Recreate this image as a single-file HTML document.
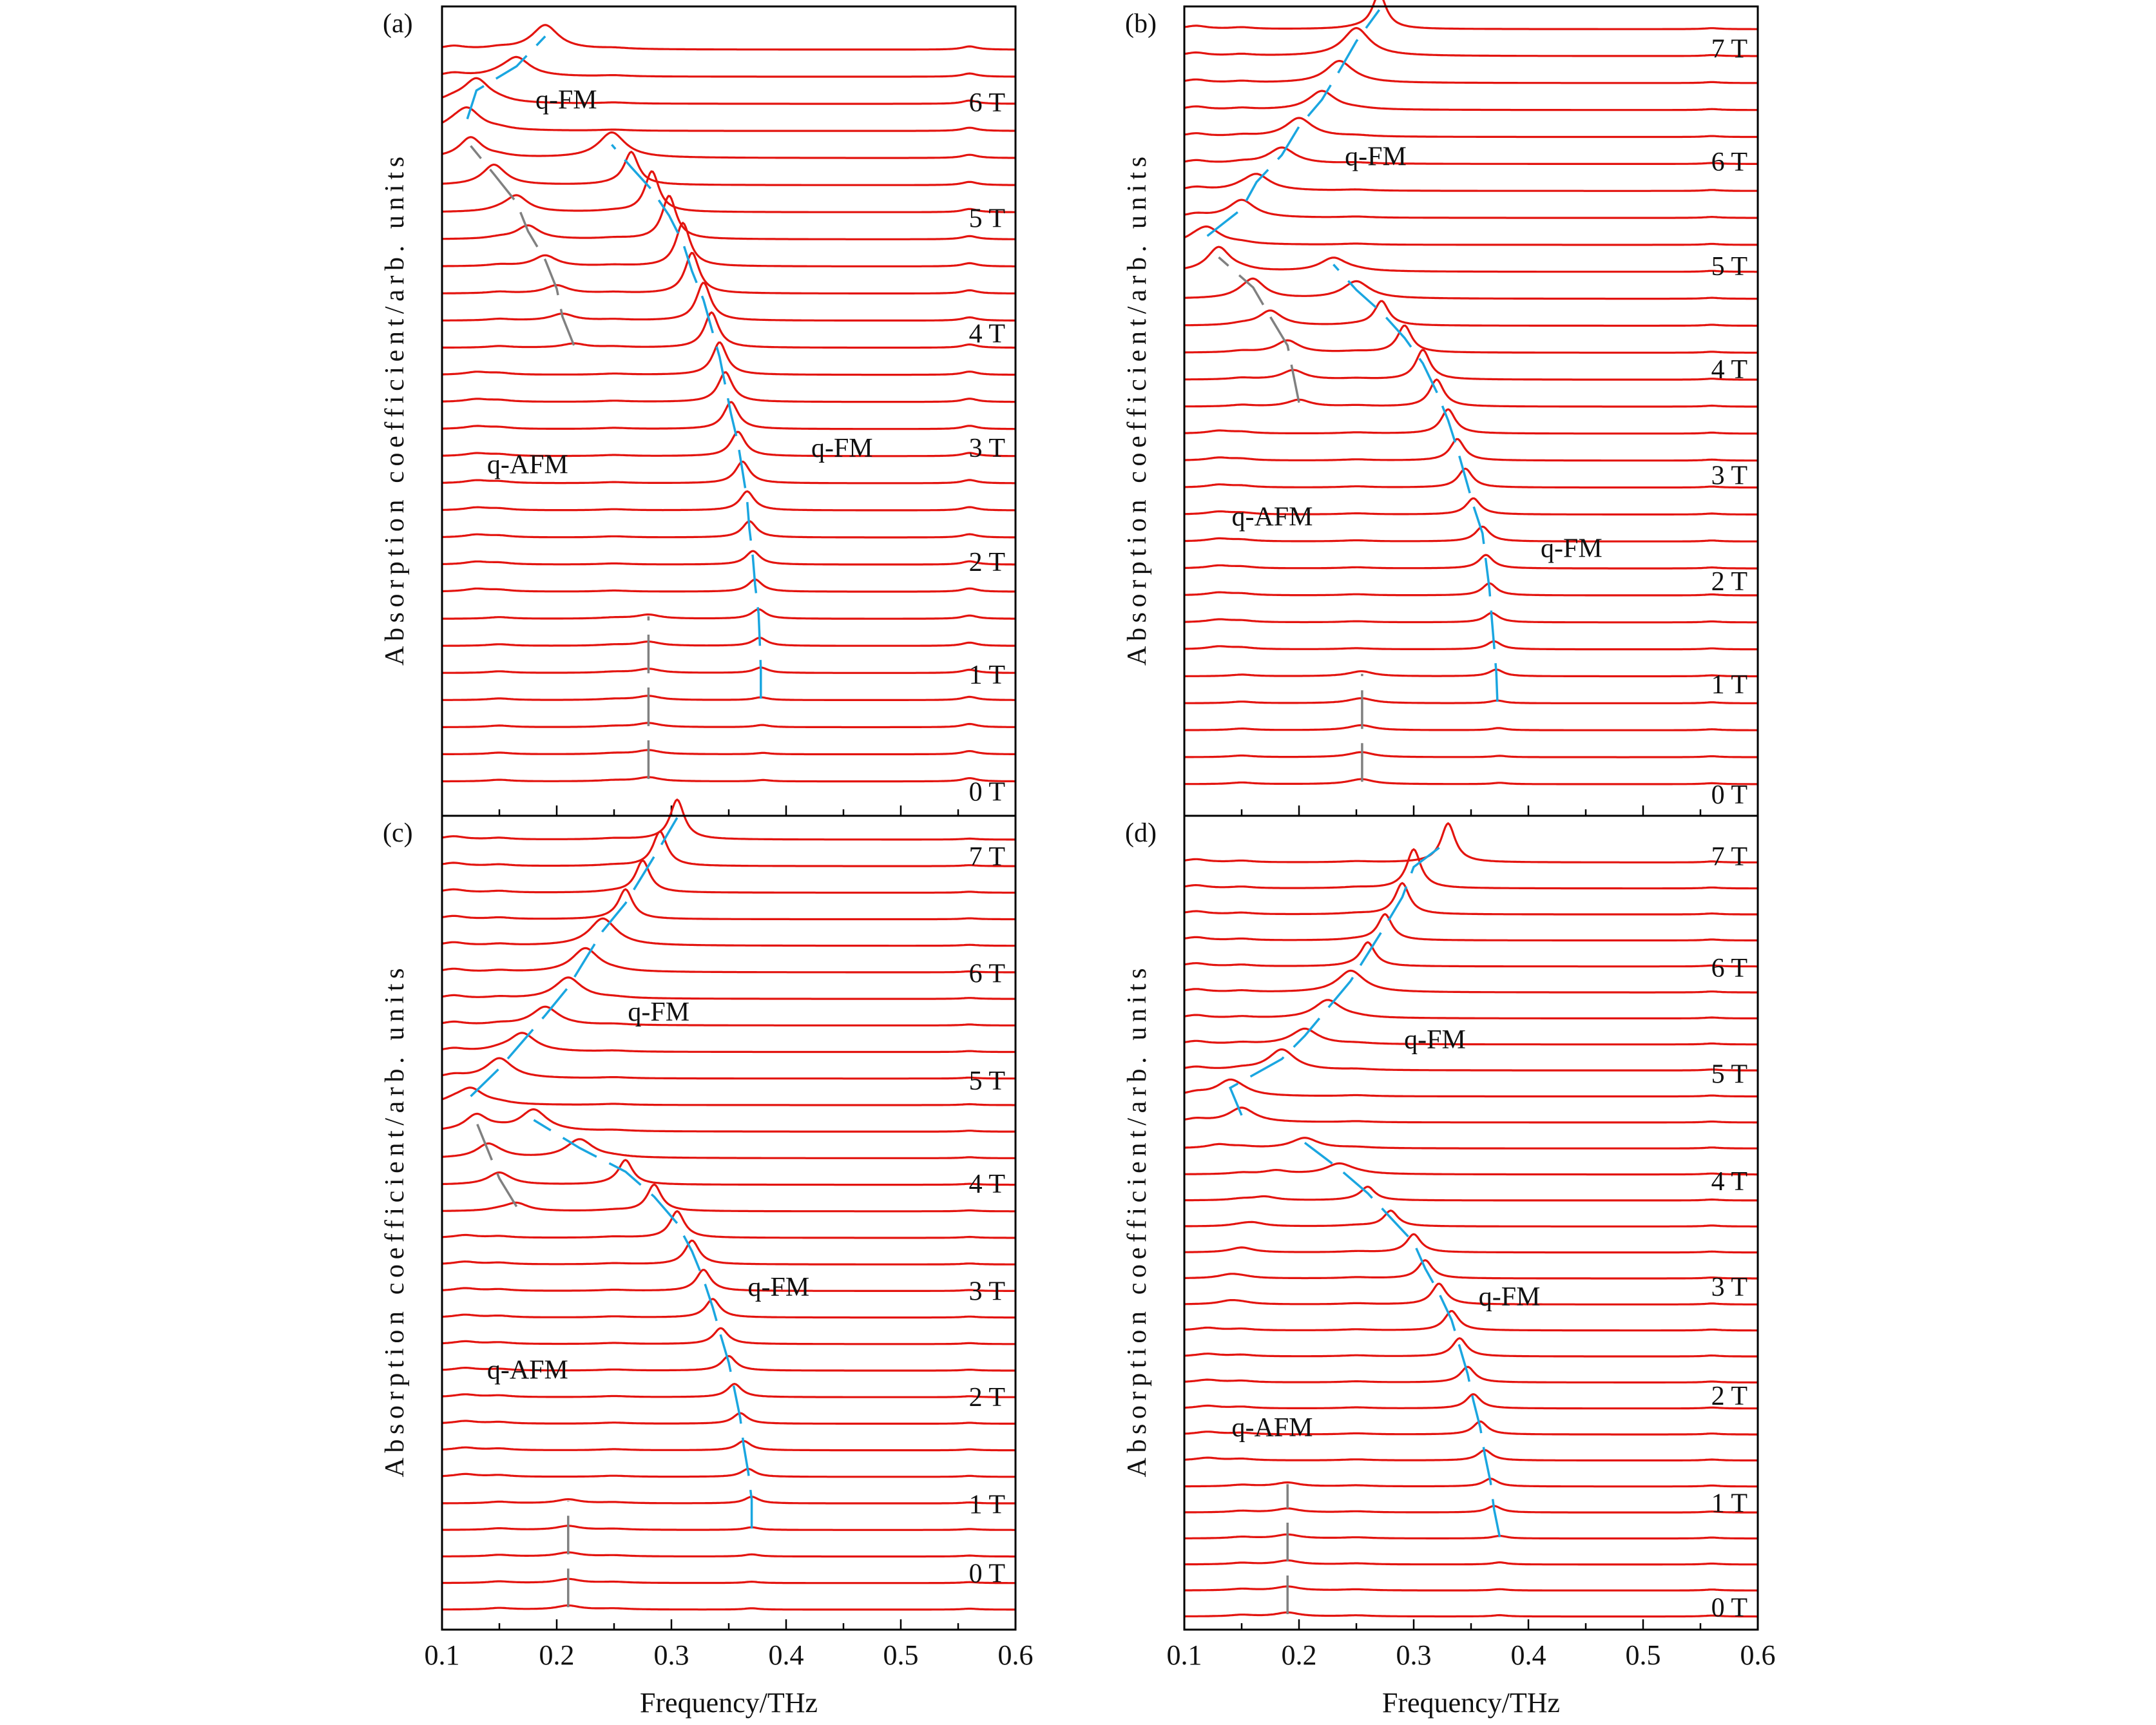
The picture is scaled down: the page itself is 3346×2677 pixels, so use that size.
<!DOCTYPE html>
<html><head><meta charset="utf-8"><style>
html,body{margin:0;padding:0;background:#fff}
svg{display:block}
text{font-family:"Liberation Serif",serif;fill:#111}
</style></head><body>
<svg id="chart" width="3346" height="2677" viewBox="0 0 3346 2677" xmlns="http://www.w3.org/2000/svg"></svg>
<script>
// ---- data (index 0 = bottom trace, 0 T; step 0.25 T) ----
const ticksX = [0.1,0.2,0.3,0.4,0.5,0.6];
const tickLabels = ["0.1","0.2","0.3","0.4","0.5","0.6"];
const fieldLabels = ["0 T","1 T","2 T","3 T","4 T","5 T","6 T","7 T"];

const aFmF = [.38,.38,.379,.378,.378,.377,.376,.373,.371,.368,.366,.362,.358,.352,.347,.342,.335,.328,.318,.31,.298,.283,.265,.248,.122,.13,.165,.19];
const aFmA = [.05,.05,.08,.1,.2,.3,.35,.45,.5,.6,.7,.8,.9,1.0,1.1,1.2,1.3,1.4,1.5,1.6,1.6,1.5,1.2,.9,.8,.9,.7,.9];
const aAfF = [.28,.28,.28,.28,.28,.28,.28,.13,.13,.13,.13,.13,.13,.13,.13,.13,.215,.205,.2,.19,.175,.165,.145,.125,.11,.11,.11,.11];
const aAfA = [.15,.15,.15,.15,.15,.15,.15,.1,.1,.1,.1,.1,.1,.1,.1,.1,.15,.25,.3,.4,.5,.6,.7,.75,.12,.12,.12,.12];

const bFmF = [.375,.375,.374,.373,.372,.37,.368,.366,.363,.36,.352,.345,.338,.33,.32,.308,.292,.272,.25,.23,.12,.15,.163,.185,.2,.22,.235,.25,.27];
const bFmA = [.05,.05,.08,.1,.25,.3,.35,.45,.5,.55,.6,.7,.8,.9,1.0,1.1,1.0,.9,.6,.5,.6,.6,.6,.6,.7,.7,.8,1.0,1.3];
const bAfF = [.255,.255,.255,.255,.255,.13,.13,.13,.13,.13,.13,.13,.13,.13,.2,.195,.19,.175,.16,.13,.11,.11,.11,.11,.11,.11,.11,.11,.11];
const bAfA = [.15,.15,.15,.15,.15,.1,.1,.1,.1,.1,.1,.1,.1,.1,.25,.35,.45,.55,.7,.9,.12,.12,.12,.12,.12,.12,.12,.12,.12];

const cFmF = [.37,.37,.37,.37,.37,.367,.363,.36,.355,.35,.343,.336,.328,.318,.305,.285,.26,.22,.18,.125,.15,.17,.19,.21,.225,.24,.26,.275,.29,.305];
const cFmA = [.05,.05,.08,.1,.25,.3,.35,.4,.5,.55,.6,.7,.8,.9,1.0,1.0,.9,.7,.8,.6,.7,.7,.7,.8,.9,1.0,1.1,1.2,1.3,1.5];
const cAfF = [.21,.21,.21,.21,.21,.12,.12,.12,.12,.12,.12,.12,.12,.12,.12,.165,.15,.14,.13,.11,.11,.11,.11,.11,.11,.11,.11,.11,.11,.11];
const cAfA = [.15,.15,.15,.15,.15,.1,.1,.1,.1,.1,.1,.1,.1,.1,.1,.3,.4,.5,.6,.12,.12,.12,.12,.12,.12,.12,.12,.12,.12,.12];

const dFmF = [.375,.375,.375,.375,.37,.367,.362,.358,.352,.347,.34,.333,.322,.31,.3,.28,.26,.235,.205,.15,.14,.185,.205,.225,.245,.26,.275,.29,.3,.33];
const dFmA = [.05,.05,.08,.1,.25,.3,.4,.5,.55,.6,.7,.75,.8,.7,.7,.6,.5,.4,.4,.5,.6,.8,.6,.7,.8,.9,1.0,1.2,1.5,1.5];
const dAfF = [.19,.19,.19,.19,.19,.19,.12,.12,.12,.12,.12,.12,.14,.14,.15,.16,.17,.18,.13,.11,.11,.11,.11,.11,.11,.11,.11,.11,.11,.11];
const dAfA = [.15,.15,.15,.15,.15,.15,.1,.1,.1,.1,.1,.1,.13,.14,.13,.13,.14,.14,.14,.12,.12,.12,.12,.12,.12,.12,.12,.12,.12,.12];

const NS = "http://www.w3.org/2000/svg";
const svg = document.getElementById('chart');
function mk(tag, attrs, parent){const e=document.createElementNS(NS,tag);for(const k in attrs)e.setAttribute(k,attrs[k]);(parent||svg).appendChild(e);return e;}

const panels = [
 {id:'a', x0:686, x1:1576, top:10, bottom:1266, base0:568*2.135, sp:19.7*2.135, fmF:aFmF, fmA:aFmA, afF:aAfF, afA:aAfA,
  labY:[575,490,408,325,242,158,74], notes:[["q-FM",413,72],["q-AFM",385,337],["q-FM",613,325]], xt:false},
 {id:'b', x0:1838, x1:2728, top:10, bottom:1266, base0:570*2.135, sp:19.6*2.135, fmF:bFmF, fmA:bFmA, afF:bAfF, afA:bAfA,
  labY:[577,497,422,345,268,193,117,35], notes:[["q-FM",1000,113],["q-AFM",925,375],["q-FM",1142,398]], xt:false},
 {id:'c', x0:686, x1:1576, top:1266, bottom:2529, base0:1170*2.135, sp:19.3*2.135, fmF:cFmF, fmA:cFmA, afF:cAfF, afA:cAfA,
  labY:[1143,1093,1015,938,860,785,707,622], notes:[["q-FM",480,735],["q-AFM",385,995],["q-FM",567,935]], xt:true},
 {id:'d', x0:1838, x1:2728, top:1266, bottom:2529, base0:1175*2.135, sp:18.9*2.135, fmF:dFmF, fmA:dFmA, afF:dAfF, afA:dAfA,
  labY:[1168,1092,1014,935,858,780,703,622], notes:[["q-FM",1043,755],["q-AFM",925,1037],["q-FM",1097,942]], xt:true}
];

function lor(f,f0,w){return w*w/((f-f0)*(f-f0)+w*w);}

panels.forEach(p=>{
  const g = mk('g',{});
  
  
  const xs = f => p.x0 + (f-0.1)/(0.5)*(p.x1-p.x0);
  const base = i => p.base0 - i*p.sp;
  const n = p.fmF.length;
  for(let i=0;i<n;i++){
    let d='';
    const wf = p.fmF[i] < 0.26 ? 0.014 : 0.0075;
    for(let k=0;k<=400;k++){
      const f = 0.1 + k*0.5/400;
      const v = p.fmA[i]*lor(f,p.fmF[i],wf) + p.afA[i]*lor(f,p.afF[i],0.012)
              + 0.12*lor(f,0.56,0.008)*(p.id==='a'?1:0.3) + 0.06*lor(f,0.15,0.012) + 0.04*lor(f,0.25,0.015);
      const y = base(i) - v*p.sp;
      d += (k?'L':'M') + xs(f).toFixed(1) + ' ' + y.toFixed(1);
    }
    const path = mk('path',{d:d,fill:'none',stroke:'#e3140f','stroke-width':3.2},g);
    
    
  }
  let seg=[];
  const flush=(arr,color,name)=>{ if(arr.length>1){const pl=mk('polyline',{points:arr.join(' '),fill:'none',stroke:color,'stroke-width':3.5,'stroke-dasharray':'60 22'},g);
       } };
  for(let i=3;i<n;i++){
    if(seg.length && Math.abs(p.fmF[i]-p.fmF[i-1])>0.05){flush(seg,'#1aa6e0','q-fm-guide-line');seg=[];}
    seg.push(xs(p.fmF[i]).toFixed(1)+','+(base(i)-p.fmA[i]*p.sp*0.55).toFixed(1));
  }
  flush(seg,'#1aa6e0','q-fm-guide-line');
  seg=[];
  for(let i=0;i<n;i++){
    const ok = p.afA[i]>=0.15;
    if(seg.length && (!ok || Math.abs(p.afF[i]-p.afF[i-1])>0.03)){flush(seg,'#808080','q-afm-guide-line');seg=[];}
    if(ok) seg.push(xs(p.afF[i]).toFixed(1)+','+(base(i)-p.afA[i]*p.sp*0.6).toFixed(1));
  }
  flush(seg,'#808080','q-afm-guide-line');
  const fr = mk('rect',{x:p.x0,y:p.top,width:p.x1-p.x0,height:p.bottom-p.top,fill:'none',stroke:'#000','stroke-width':3},g);
   
  for(let t=0;t<=10;t++){
    const f=0.1+t*0.05, x=xs(f), len=(t%2===0)?16:10;
    const tk = mk('line',{x1:x,x2:x,y1:p.bottom,y2:p.bottom-len,stroke:'#000','stroke-width':2.5},g);
     
  }
  if(p.xt){
    ticksX.forEach((f,j)=>{
      const t = mk('text',{x:xs(f),y:2583,'font-size':44,'text-anchor':'middle'},g);
      t.textContent = tickLabels[j];
       
    });
    const xl = mk('text',{x:(p.x0+p.x1)/2,y:2657,'font-size':44,'text-anchor':'middle'},g);
    xl.textContent='Frequency/THz';
     
  }
  const cy=(p.top+p.bottom)/2, cx=p.x0-60;
  const yl = mk('text',{x:cx,y:cy,'font-size':42,'text-anchor':'middle',transform:'rotate(-90 '+cx+' '+cy+')',textLength:790,lengthAdjust:'spacing'},g);
  yl.textContent='Absorption coefficient/arb. units';
   
  const pl = mk('text',{x:p.x0-92,y:p.top+40,'font-size':42},g);
  pl.textContent='('+p.id+')';
   
  p.labY.forEach((yy,j)=>{
    const t = mk('text',{x:p.x1-16,y:yy*2.135+15,'font-size':42,'text-anchor':'end'},g);
    t.textContent = fieldLabels[j];
     
  });
  p.notes.forEach(nt=>{
    const t = mk('text',{x:nt[1]*2.14-5,y:nt[2]*2.135+15,'font-size':42,'text-anchor':'middle'},g);
    t.textContent = nt[0];
     
  });
});
</script>
</body></html>
